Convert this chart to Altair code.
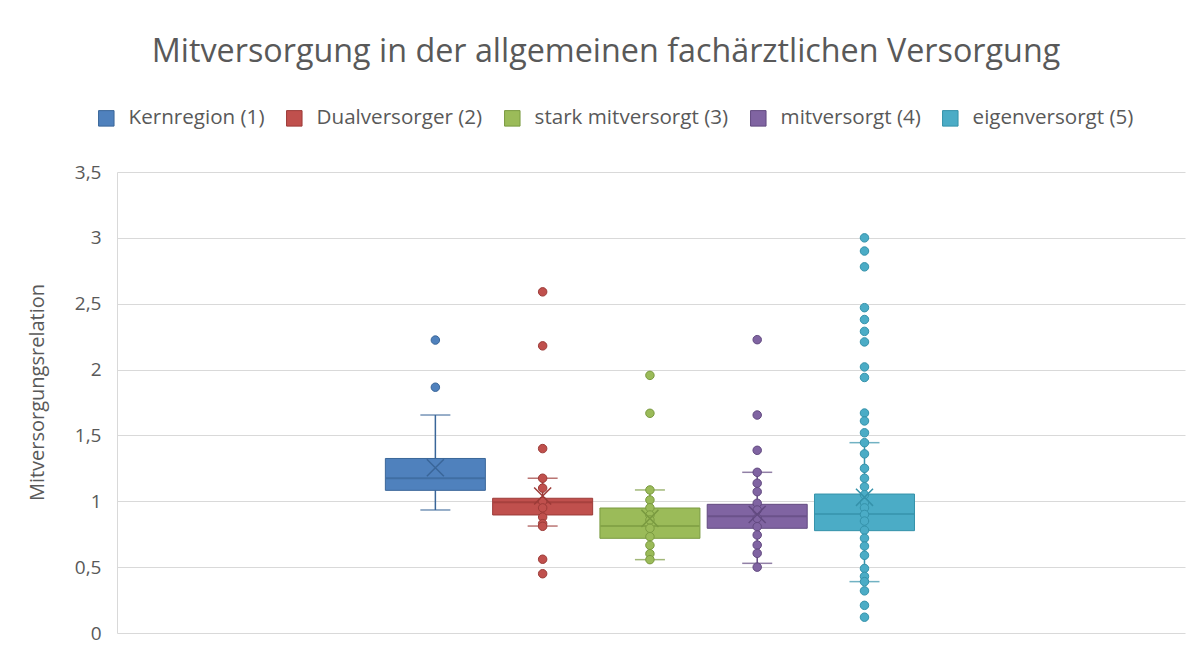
import altair as alt
import pandas as pd

series = ["Kernregion (1)", "Dualversorger (2)", "stark mitversorgt (3)", "mitversorgt (4)", "eigenversorgt (5)"]
fill_colors = ["#4F81BD", "#C0504D", "#9BBB59", "#8064A2", "#4BACC6"]
dark_colors = ["#3A6699", "#9C3B38", "#7A9A40", "#624A80", "#3592AA"]

# box statistics
whisker_low = [0.934, 0.812, 0.557, 0.529, 0.39]
q1 = [1.083, 0.896, 0.719, 0.795, 0.777]
median = [1.175, 0.992, 0.812, 0.886, 0.904]
q3 = [1.325, 1.023, 0.949, 0.977, 1.055]
whisker_high = [1.655, 1.175, 1.086, 1.22, 1.445]
mean = [1.255, 1.04, 0.87, 0.90, 1.03]

# individual points
pts_kern = [2.224, 1.866]
pts_dual = [2.59, 2.18, 1.40, 1.175, 1.10, 1.0, 0.95, 0.88, 0.83, 0.81, 0.56, 0.45]
pts_stark = [1.956, 1.668, 1.086, 1.01, 0.951, 0.896, 0.858, 0.795, 0.731, 0.666, 0.602, 0.557]
pts_mit = [2.227, 1.655, 1.387, 1.22, 1.137, 1.073, 0.985, 0.934, 0.871, 0.807, 0.744, 0.668, 0.605, 0.50]
pts_eigen = [3.0, 2.9, 2.78, 2.47, 2.38, 2.29, 2.21, 2.02, 1.94, 1.67, 1.61, 1.52, 1.445, 1.36, 1.25,
             1.175, 1.11, 1.05, 0.99, 0.95, 0.90, 0.85, 0.78, 0.72, 0.66, 0.59, 0.49, 0.43, 0.39,
             0.32, 0.21, 0.12]

y_ticks = [0, 0.5, 1, 1.5, 2, 2.5, 3, 3.5]

stats = pd.DataFrame({
    "series": series, "idx": list(range(len(series))), "lo": whisker_low, "q1": q1,
    "med": median, "q3": q3, "hi": whisker_high, "mean": mean,
})
rows = []
for i, (s, vals) in enumerate(zip(series, [pts_kern, pts_dual, pts_stark, pts_mit, pts_eigen])):
    for v in vals:
        rows.append({"series": s, "idx": i, "value": v})
points = pd.DataFrame(rows)

FONT = "Open Sans"
TXT = "#595959"

xscale = alt.Scale(domain=[-2.921, 6.941], nice=False, zero=False)
yscale = alt.Scale(domain=[0, 3.5], nice=False)
yaxis = alt.Axis(values=y_ticks, labelExpr="replace(format(datum.value, '~g'), '.', ',')",
                 title="Mitversorgungsrelation", titleX=-80, titleY=220, titleAngle=270,
                 titleAlign="center", titleBaseline="middle")


def X():
    return alt.X("idx:Q", scale=xscale, axis=None, title=None)


fill_scale = alt.Scale(domain=series, range=fill_colors)
stroke_scale = alt.Scale(domain=series, range=dark_colors)

legend = alt.Legend(title=None, orient="none", legendX=-21, legendY=-64, direction="horizontal",
                    symbolType="square", symbolSize=240, symbolStrokeWidth=1,
                    labelFont=FONT, labelFontSize=20.6, labelColor=TXT, labelOffset=12,
                    labelLimit=500, columnPadding=19, padding=0)

box = alt.Chart(stats).mark_bar(width=100, strokeWidth=1).encode(
    x=X(), y=alt.Y("q1:Q", scale=yscale, axis=yaxis), y2="q3:Q",
    fill=alt.Fill("series:N", scale=fill_scale, legend=legend),
    stroke=alt.Stroke("series:N", scale=stroke_scale, legend=legend))

pts = alt.Chart(points).mark_point(filled=True, size=72, strokeWidth=1, opacity=1).encode(
    x=X(), y=alt.Y("value:Q", scale=yscale),
    fill=alt.Fill("series:N", scale=fill_scale, legend=legend),
    stroke=alt.Stroke("series:N", scale=stroke_scale, legend=legend))

whisk_layers, cap_layers, med_layers, mean_layers = [], [], [], []
for s, dc in zip(series, dark_colors):
    b = alt.Chart(stats).transform_filter(alt.datum.series == s)
    whisk_layers.append(b.mark_rule(color=dc, strokeWidth=1.5).encode(
        x=X(), y=alt.Y("lo:Q", scale=yscale), y2="hi:Q"))
    cap_layers.append(b.mark_tick(orient="horizontal", size=30, thickness=1.5, color=dc).encode(
        x=X(), y=alt.Y("lo:Q", scale=yscale)))
    cap_layers.append(b.mark_tick(orient="horizontal", size=30, thickness=1.5, color=dc).encode(
        x=X(), y=alt.Y("hi:Q", scale=yscale)))
    med_layers.append(b.mark_tick(orient="horizontal", size=99, thickness=2, color=dc).encode(
        x=X(), y=alt.Y("med:Q", scale=yscale)))
    mean_layers.append(b.mark_point(shape="M-1,-1L1,1M-1,1L1,-1", size=290, filled=False,
                                    strokeWidth=1.5, opacity=1, color=dc).encode(
        x=X(), y=alt.Y("mean:Q", scale=yscale)))

chart = alt.layer(*whisk_layers, *cap_layers, box, *med_layers, pts, *mean_layers).properties(
    width=1068, height=461,
    autosize=alt.AutoSizeParams(type="none"),
    padding={"left": 109, "top": 164, "right": 8, "bottom": 12},
    title=alt.TitleParams("Mitversorgung in der allgemeinen fachärztlichen Versorgung",
                          font=FONT, fontSize=32.3, fontWeight="normal", color=TXT,
                          anchor="middle", frame="bounds", offset=40),
).configure_view(stroke=None).configure_axis(
    grid=True, gridColor="#d9d9d9", gridWidth=1, domainColor="#d9d9d9", domainWidth=1,
    ticks=False, labelFont=FONT, labelFontSize=19, labelColor=TXT, labelPadding=16,
    titleFont=FONT, titleFontSize=20, titleColor=TXT, titleFontWeight="normal",
)

chart.save("out.html", embed_options={"renderer": "svg", "actions": False})
